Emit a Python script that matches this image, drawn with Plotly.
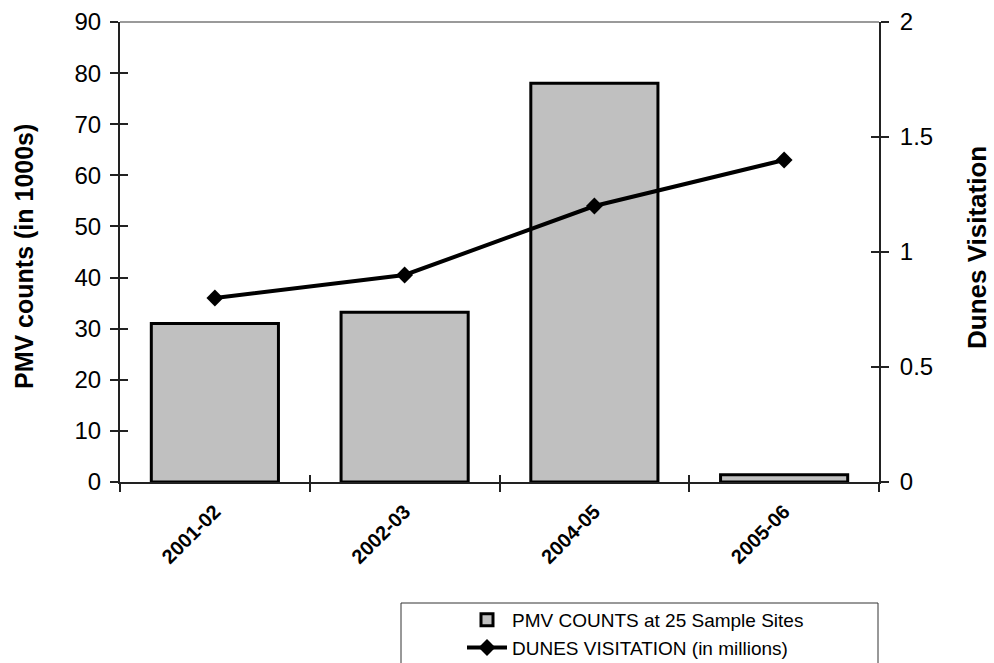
import plotly.graph_objects as go

# Survey seasons and measured values
seasons = ["2001-02", "2002-03", "2004-05", "2005-06"]
pmv_counts = [31, 33.2, 78, 1.4]          # thousands
dunes_visitation = [0.8, 0.9, 1.2, 1.4]   # millions

FONT = "Liberation Sans, Arial, sans-serif"

W, H = 994, 663
L, R, T, B = 120, 115, 22, 181
PW, PH = W - L - R, H - T - B


def px_x(px):
    return (px - L) / PW


def px_y(py):
    return (H - B - py) / PH


fig = go.Figure()

fig.add_trace(go.Bar(
    x=seasons, y=pmv_counts,
    name="PMV COUNTS at 25 Sample Sites",
    marker=dict(color="#c0c0c0", line=dict(color="black", width=3)),
    width=0.67,
    yaxis="y",
))

fig.add_trace(go.Scatter(
    x=seasons, y=dunes_visitation,
    name="DUNES VISITATION (in millions)",
    mode="lines+markers",
    line=dict(color="black", width=4),
    marker=dict(symbol="diamond", size=13, color="black"),
    yaxis="y2",
))

axis_line = "#222222"

fig.update_layout(
    width=W, height=H,
    margin=dict(l=L, r=R, t=T, b=B, autoexpand=False),
    paper_bgcolor="white", plot_bgcolor="white",
    font=dict(family=FONT, color="black"),
    xaxis=dict(
        type="category", automargin=False,
        showline=True, linecolor=axis_line, linewidth=2,
        ticks="outside", tickson="boundaries", ticklen=8, tickwidth=1.5,
        tickcolor=axis_line,
        tickangle=-45, ticklabelstandoff=8,
        tickfont=dict(family=FONT, size=20, color="black", weight="bold"),
        showgrid=False, zeroline=False,
    ),
    xaxis2=dict(
        overlaying="x", anchor="y", side="bottom", automargin=False,
        range=[-0.5, 3.5], tickvals=[-0.5, 0.5, 1.5, 2.5, 3.5],
        ticks="inside", ticklen=7, tickwidth=1.5, tickcolor=axis_line,
        showticklabels=False, showgrid=False, zeroline=False, showline=False,
    ),
    yaxis=dict(
        range=[0, 90], dtick=10, automargin=False,
        showline=True, linecolor=axis_line, linewidth=2,
        ticks="outside", ticklen=8, tickwidth=1.5, tickcolor=axis_line,
        tickfont=dict(family=FONT, size=24, color="black"),
        ticklabelstandoff=4,
        showgrid=False, zeroline=False,
    ),
    yaxis3=dict(
        overlaying="y", anchor="x", side="left", automargin=False,
        range=[0, 90], dtick=10,
        ticks="inside", ticklen=8, tickwidth=1.5, tickcolor=axis_line,
        showticklabels=False, showgrid=False, zeroline=False, showline=False,
    ),
    yaxis2=dict(
        overlaying="y", side="right", anchor="x", automargin=False,
        range=[0, 2], dtick=0.5,
        showline=True, linecolor=axis_line, linewidth=2,
        ticks="outside", ticklen=8, tickwidth=1.5, tickcolor=axis_line,
        tickfont=dict(family=FONT, size=24, color="black"),
        ticklabelstandoff=6,
        showgrid=False, zeroline=False,
    ),
    yaxis4=dict(
        overlaying="y", side="right", anchor="x", automargin=False,
        range=[0, 2], dtick=0.5,
        ticks="inside", ticklen=8, tickwidth=1.5, tickcolor=axis_line,
        showticklabels=False, showgrid=False, zeroline=False, showline=False,
    ),
    showlegend=True,
    legend=dict(
        x=px_x(462), y=px_y(601), xanchor="left", yanchor="top",
        bgcolor="rgba(0,0,0,0)", borderwidth=0,
        font=dict(family=FONT, size=19, color="black"),
        tracegroupgap=0, itemwidth=40,
    ),
    shapes=[
        # light frame line across the top of the plot area
        dict(type="line", xref="paper", yref="paper", x0=0, x1=1, y0=1, y1=1,
             line=dict(color="#9a9a9a", width=2)),
        # legend frame
        dict(type="rect", xref="paper", yref="paper",
             x0=px_x(401), x1=px_x(878), y0=px_y(675), y1=px_y(603),
             line=dict(color="#333333", width=1), fillcolor="rgba(0,0,0,0)"),
    ],
    annotations=[
        dict(text="<b>PMV counts (in 1000s)</b>", textangle=-90,
             xref="paper", yref="paper", x=px_x(24), y=px_y(257),
             xanchor="center", yanchor="middle",
             showarrow=False, font=dict(family=FONT, size=25, color="black")),
        dict(text="<b>Dunes Visitation</b>", textangle=-90,
             xref="paper", yref="paper", x=px_x(977), y=px_y(248),
             xanchor="center", yanchor="middle",
             showarrow=False, font=dict(family=FONT, size=26, color="black")),
    ],
)

# empty traces so the overlay tick axes get drawn
fig.add_trace(go.Scatter(x=[None], y=[None], xaxis="x2", yaxis="y3",
                         showlegend=False, hoverinfo="skip"))
fig.add_trace(go.Scatter(x=[None], y=[None], xaxis="x", yaxis="y4",
                         showlegend=False, hoverinfo="skip"))

fig.write_html("out.html")
